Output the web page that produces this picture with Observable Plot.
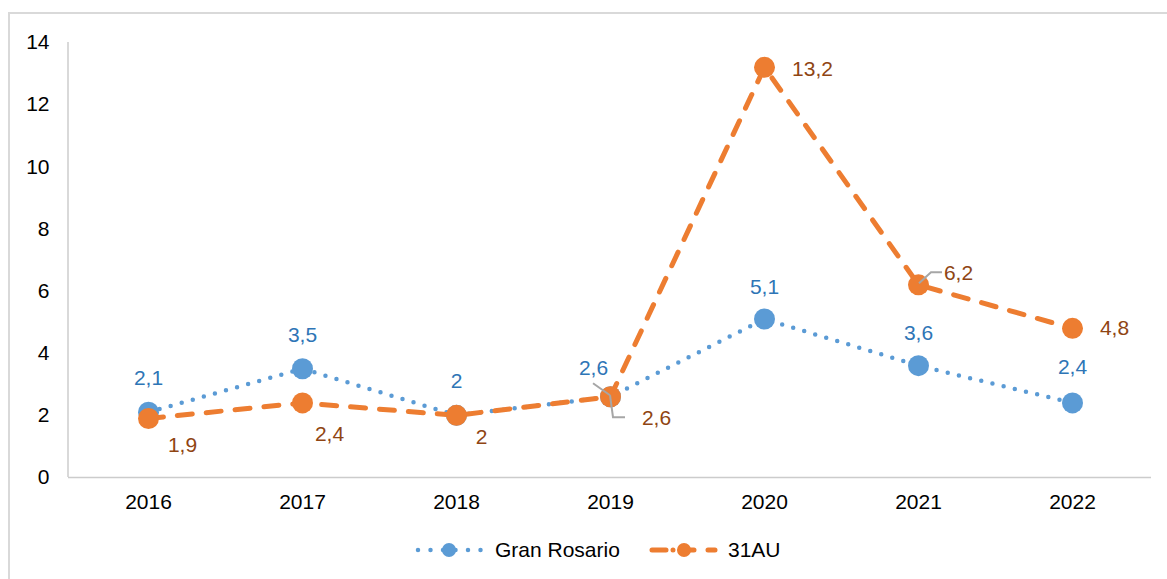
<!DOCTYPE html>
<html><head><meta charset="utf-8">
<script src="https://cdn.jsdelivr.net/npm/d3@7"></script>
<script src="https://cdn.jsdelivr.net/npm/@observablehq/plot@0.6"></script>
<style>
body{margin:0;background:#fff;font-family:"Liberation Sans",Arial,sans-serif;}
#wrap{position:relative;width:1167px;height:579px;overflow:hidden;background:#fff;}
#border{position:absolute;left:8px;top:12px;width:1200px;height:600px;border-left:2px solid #d9d9d9;border-top:2px solid #d9d9d9;}
#chart{position:absolute;left:0;top:0;}
#legend{position:absolute;left:0;top:520px;}
</style></head><body>
<div id="wrap"><div id="border"></div><div id="chart"></div><div id="legend"></div></div>
<script>
// ---- data ----
const years = ["2016", "2017", "2018", "2019", "2020", "2021", "2022"];
const granRosario = [2.1, 3.5, 2, 2.6, 5.1, 3.6, 2.4];
const au31 = [1.9, 2.4, 2, 2.6, 13.2, 6.2, 4.8];
const yTicks = [0, 2, 4, 6, 8, 10, 12, 14];
const seriesNames = ["Gran Rosario", "31AU"];

// ---- style ----
const BLUE = "#5b9bd5", ORANGE = "#ed7d31";
const BLUE_TXT = "#2e75b6", ORANGE_TXT = "#8f4513";
const FONT = "Liberation Sans, Arial, sans-serif";
const FS = 21;

const blueData = years.map((y, i) => ({year: y, value: granRosario[i]}));
const orangeData = years.map((y, i) => ({year: y, value: au31[i]}));
const fmt = v => String(v).replace(".", ",");

// label pixel offsets per year (style only)
const blueOff = {"2016":[0,-34],"2017":[0,-33],"2018":[0,-34],"2019":[-17,-28],"2020":[0,-32],"2021":[0,-32],"2022":[0,-36]};
const orangeOff = {"2016":[34,27],"2017":[27,31],"2018":[25,22],"2019":[46,22],"2020":[48,2],"2021":[40,-12],"2022":[42,0]};

function labels(data, off, color) {
  return data.map(d => Plot.text([d], {
    x: "year", y: "value", text: d => fmt(d.value),
    dx: off[d.year][0], dy: off[d.year][1],
    fill: color, fontSize: FS, fontFamily: FONT
  }));
}

// leader lines: offsets in pixels relative to the data point
const leaderSpecs = [
  {data: blueData, year: "2019", pts: [[-17,-13],[0,-1]]},
  {data: orangeData, year: "2019", pts: [[0,-1],[3,21],[15,21]]},
  {data: orangeData, year: "2021", pts: [[1,-1],[13,-12],[24,-12]]}
];
function leaders(index, scales) {
  const g = d3.create("svg:g");
  for (const s of leaderSpecs) {
    const d = s.data.find(e => e.year === s.year);
    const cx = scales.x(d.year), cy = scales.y(d.value);
    g.append("path")
      .attr("d", "M" + s.pts.map(p => [cx + p[0], cy + p[1]].join(",")).join("L"))
      .attr("fill", "none").attr("stroke", "#a6a6a6").attr("stroke-width", 2);
  }
  return g.node();
}
function leftAxisLine(index, scales) {
  const x0 = 68;
  return d3.create("svg:line")
    .attr("x1", x0).attr("x2", x0)
    .attr("y1", scales.y(14)).attr("y2", scales.y(0))
    .attr("stroke", "#cccccc").attr("stroke-width", 1.5).node();
}

const chart = Plot.plot({
  width: 1167, height: 520,
  marginLeft: 68, marginRight: 16, marginTop: 42, marginBottom: 43,
  style: {fontFamily: FONT, fontSize: FS + "px", color: "#000", background: "transparent", overflow: "visible"},
  x: {type: "point", domain: years, padding: 0.5, tickSize: 0, tickPadding: 17, label: null},
  y: {domain: [0, 14], ticks: yTicks, tickSize: 0, tickPadding: 19, label: null},
  marks: [
    Plot.ruleY([0], {stroke: "#cccccc", strokeWidth: 1.5}),
    leftAxisLine,
    Plot.line(blueData, {x: "year", y: "value", stroke: BLUE, strokeWidth: 4.5, strokeDasharray: "0,11.5", strokeLinecap: "round"}),
    Plot.dot(blueData, {x: "year", y: "value", r: 10.5, fill: BLUE}),
    Plot.line(orangeData, {x: "year", y: "value", stroke: ORANGE, strokeWidth: 5, strokeDasharray: "15,14", strokeLinecap: "round"}),
    Plot.dot(orangeData, {x: "year", y: "value", r: 10.5, fill: ORANGE}),
    leaders,
    ...labels(blueData, blueOff, BLUE_TXT),
    ...labels(orangeData, orangeOff, ORANGE_TXT)
  ]
});
document.getElementById("chart").appendChild(chart);

// ---- legend ----
const lg = d3.select("#legend").append("svg").attr("width", 1167).attr("height", 59)
  .style("font-family", FONT).style("font-size", FS + "px");
const ly = 30;
lg.append("line").attr("x1", 418).attr("x2", 481).attr("y1", ly).attr("y2", ly)
  .attr("stroke", BLUE).attr("stroke-width", 4.5).attr("stroke-dasharray", "0,12.5").attr("stroke-linecap", "round");
lg.append("circle").attr("cx", 449).attr("cy", ly).attr("r", 7).attr("fill", BLUE);
lg.append("text").attr("x", 495).attr("y", ly).attr("dy", "0.35em").attr("fill", "#000").text(seriesNames[0]);
lg.append("line").attr("x1", 652).attr("x2", 715).attr("y1", ly).attr("y2", ly)
  .attr("stroke", ORANGE).attr("stroke-width", 5).attr("stroke-dasharray", "14,7,0,7,14").attr("stroke-linecap", "round");
lg.append("circle").attr("cx", 684).attr("cy", ly).attr("r", 7).attr("fill", ORANGE);
lg.append("text").attr("x", 728).attr("y", ly).attr("dy", "0.35em").attr("fill", "#000").text(seriesNames[1]);
</script>
</body></html>
